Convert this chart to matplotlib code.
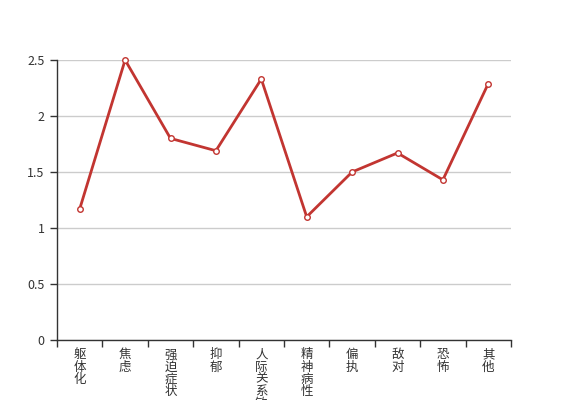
import matplotlib
matplotlib.use("Agg")
import matplotlib.pyplot as plt
import numpy as np
from matplotlib.ticker import FixedLocator

plt.rcParams["font.family"] = ["Noto Sans CJK SC", "DejaVu Sans"]

categories = ["躯体化", "焦虑", "强迫症状", "抑郁", "人际关系敏感",
              "精神病性", "偏执", "敌对", "恐怖", "其他"]
scores = [1.17, 2.5, 1.8, 1.69, 2.33, 1.1, 1.5, 1.67, 1.43, 2.29]
y_ticks = [0, 0.5, 1, 1.5, 2, 2.5]
y_labels = ["0", "0.5", "1", "1.5", "2", "2.5"]

RED = "#c23531"
AX = "#333333"

fig = plt.figure(figsize=(5.67, 4.0), dpi=100)
ax = fig.add_axes([57 / 567, 0.15, (511 - 57) / 567, 0.70])

x = np.arange(len(categories))
ax.plot(x, scores, color=RED, lw=2, marker="o", ms=4, mfc="white",
        mec=RED, mew=1, zorder=3, clip_on=False)

ax.set_xlim(-0.5, len(categories) - 0.5)
ax.set_ylim(0, 2.5)
ax.set_yticks(y_ticks)
ax.set_yticklabels(y_labels)
ax.grid(axis="y", color="#cccccc", lw=1)
ax.set_axisbelow(True)

ax.set_xticks(x)
ax.set_xticklabels(["\n".join(c) for c in categories], linespacing=0.92,
                   va="top")
ax.xaxis.set_minor_locator(FixedLocator(np.arange(-0.5, len(categories), 1)))
ax.tick_params(axis="x", which="major", length=0, pad=6, labelsize=9,
               labelcolor=AX)
ax.tick_params(axis="x", which="minor", length=5, color=AX, width=1)
ax.tick_params(axis="y", length=5, color=AX, width=1, labelsize=9,
               labelcolor=AX, pad=4)

for s in ("top", "right"):
    ax.spines[s].set_visible(False)
for s in ("left", "bottom"):
    ax.spines[s].set_color(AX)
    ax.spines[s].set_linewidth(1)

fig.savefig("out.png", dpi=100)
